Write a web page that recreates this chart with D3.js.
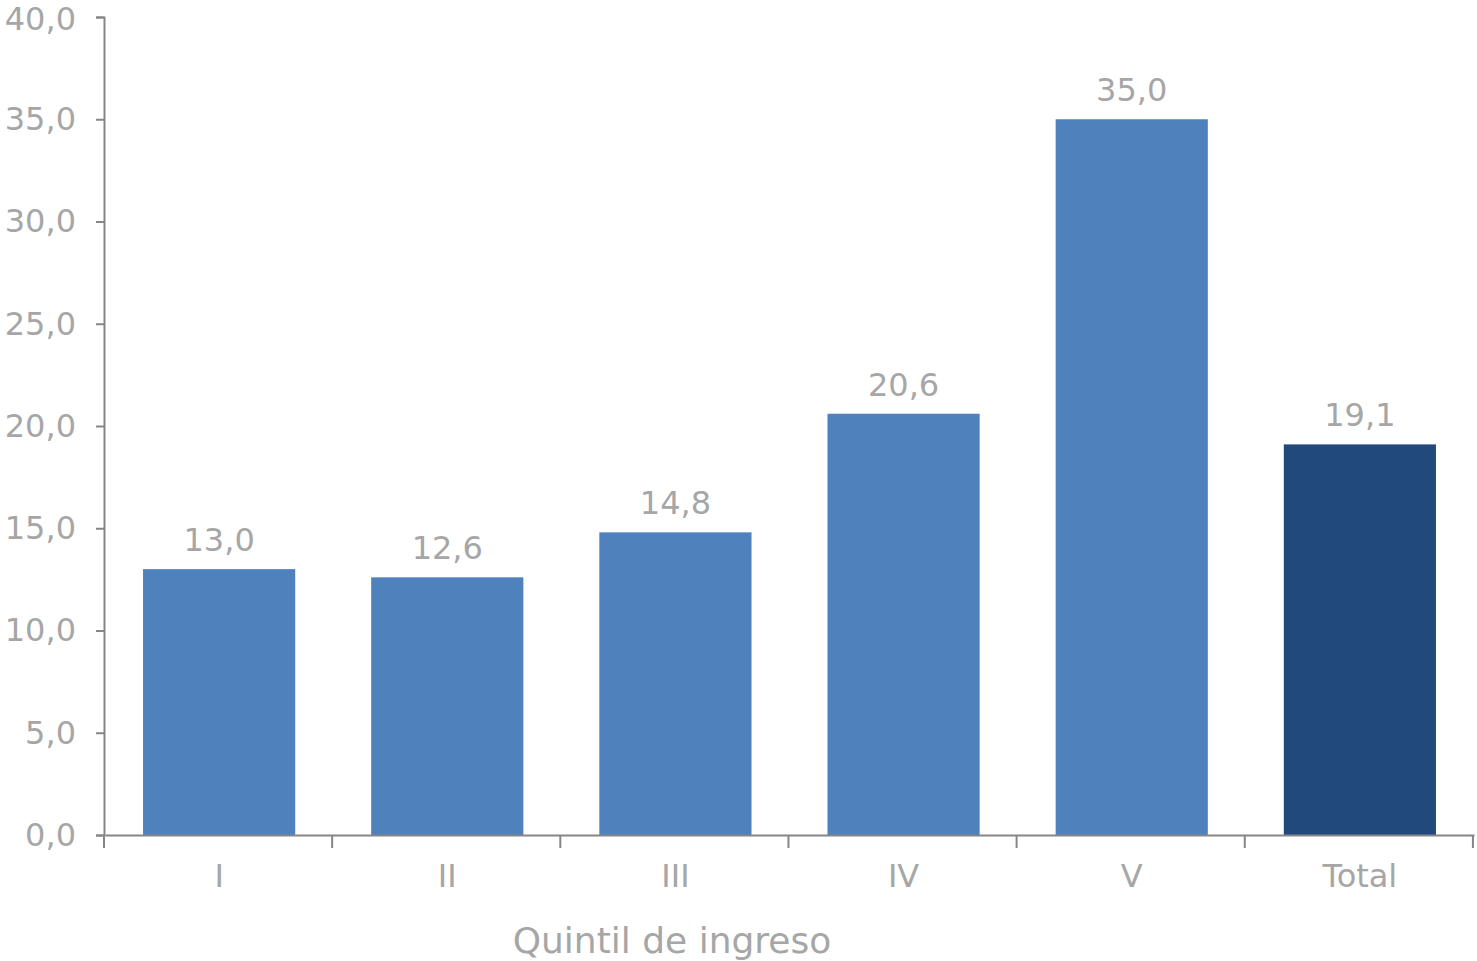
<!DOCTYPE html>
<html>
<head>
<meta charset="utf-8">
<script src="https://cdn.jsdelivr.net/npm/d3@7"></script>
<style>
  html, body { margin: 0; padding: 0; background: #fff; }
  svg { display: block; }
  text { font-family: "DejaVu Sans", Verdana, sans-serif; }
</style>
</head>
<body>
<svg id="chart" width="1477" height="961"></svg>
<script>
const categories = ["I", "II", "III", "IV", "V", "Total"];
const values = [13.0, 12.6, 14.8, 20.6, 35.0, 19.1];
const yTicks = [0, 5, 10, 15, 20, 25, 30, 35, 40];
const xTitle = "Quintil de ingreso";

const W = 1477, H = 961;
const m = { left: 104, right: 4, top: 17, bottom: 126 };
const svg = d3.select("#chart");
const fmt = v => d3.format(".1f")(v).replace(".", ",");
const textColor = "#A6A6A6";
const axisColor = "#868686";
const fs = 32;

const x = d3.scaleBand().domain(categories)
  .range([m.left + 1, W - m.right + 1]).paddingInner(0.333).paddingOuter(0.1667);
const y = d3.scaleLinear().domain([0, 40]).range([H - m.bottom, m.top]);

// bars
svg.append("g").selectAll("rect").data(categories).join("rect")
  .attr("x", d => x(d))
  .attr("y", (d, i) => y(values[i]))
  .attr("width", x.bandwidth())
  .attr("height", (d, i) => y(0) - y(values[i]))
  .attr("fill", d => d === "Total" ? "#21497B" : "#4F81BD");

// data labels
svg.append("g").selectAll("text").data(categories).join("text")
  .attr("x", d => x(d) + x.bandwidth() / 2)
  .attr("y", (d, i) => y(values[i]) - 18)
  .attr("text-anchor", "middle")
  .attr("font-size", fs)
  .attr("fill", textColor)
  .text((d, i) => fmt(values[i]));

// y axis
const yAxis = svg.append("g").attr("transform", `translate(${m.left},0)`)
  .call(d3.axisLeft(y).tickValues(yTicks).tickSize(8).tickPadding(20).tickFormat(fmt));
yAxis.selectAll("path, line").attr("stroke", axisColor).attr("stroke-width", 2);
yAxis.selectAll("text").attr("font-size", fs).attr("fill", textColor)
  .attr("font-family", "\"DejaVu Sans\", Verdana, sans-serif");
yAxis.selectAll(".tick").filter(d => d === 40).select("text").attr("dy", "0.4em");

// x axis
const xAxis = svg.append("g").attr("transform", `translate(0,${y(0)})`)
  .call(d3.axisBottom(x).tickSize(0).tickPadding(29));
xAxis.select("path").attr("stroke", axisColor).attr("stroke-width", 2);
xAxis.selectAll("text").attr("font-size", fs).attr("fill", textColor)
  .attr("font-family", "\"DejaVu Sans\", Verdana, sans-serif");

// boundary ticks
const step = x.step();
const bounds = d3.range(categories.length + 1).map(i => m.left + i * step);
svg.append("g").selectAll("line").data(bounds).join("line")
  .attr("x1", d => d).attr("x2", d => d)
  .attr("y1", y(0)).attr("y2", y(0) + 13)
  .attr("stroke", axisColor).attr("stroke-width", 2);

// x title
svg.append("text")
  .attr("x", 672).attr("y", 953)
  .attr("text-anchor", "middle")
  .attr("font-size", 36)
  .attr("fill", textColor)
  .text(xTitle);
</script>
</body>
</html>
